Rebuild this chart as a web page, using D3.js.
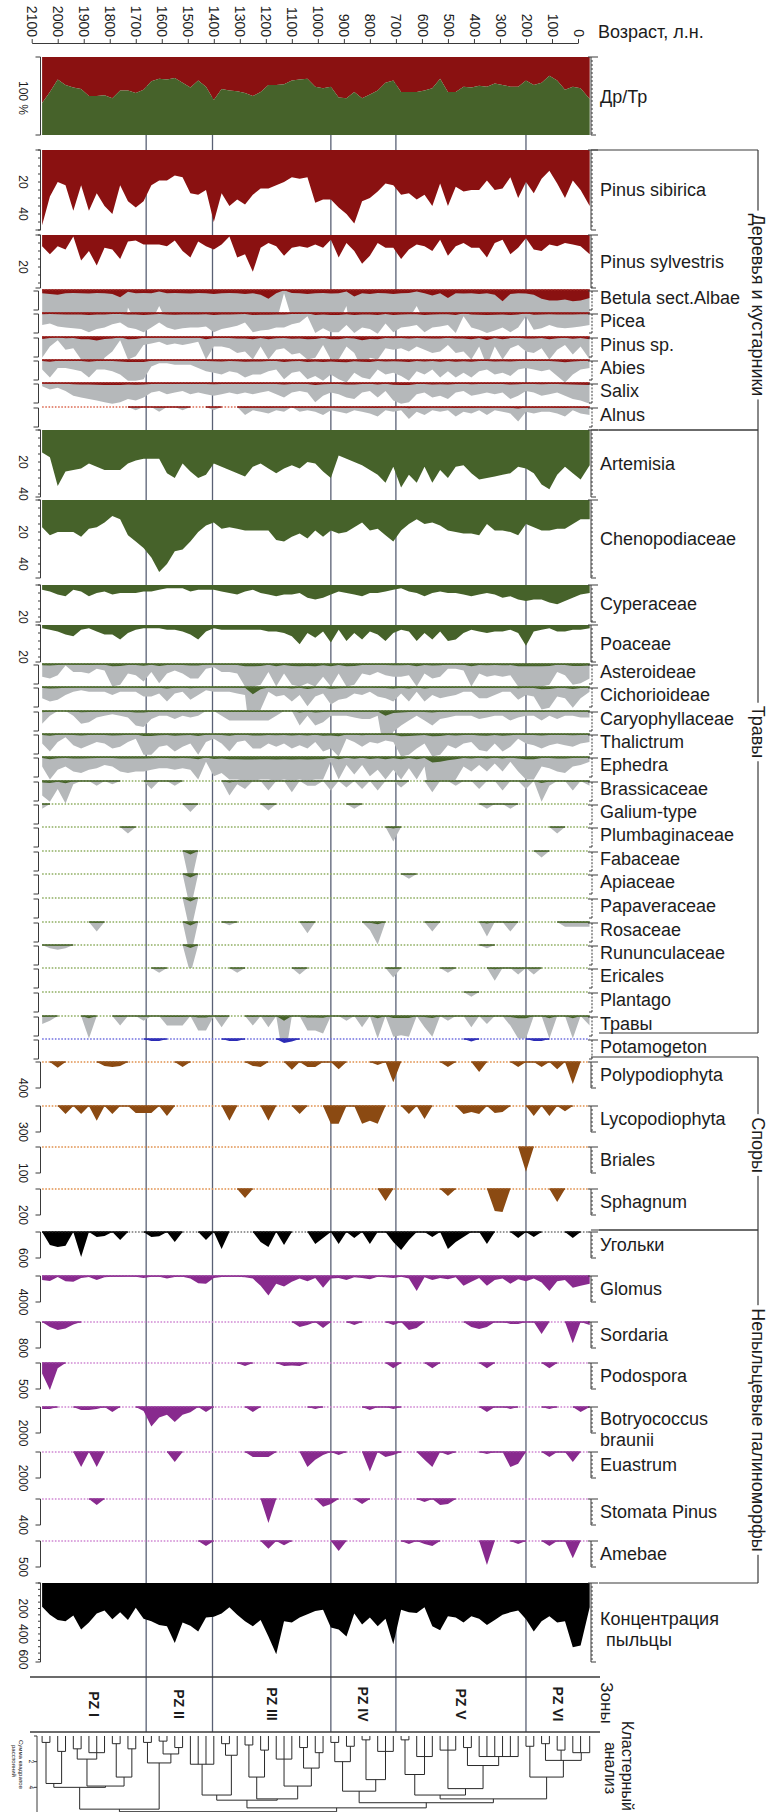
<!DOCTYPE html>
<html>
<head>
<meta charset="utf-8">
<script src="https://cdn.jsdelivr.net/npm/d3@7"></script>
<style>
  body { margin: 0; background: #fff; }
  svg { display: block; }
  text { font-family: "Liberation Sans", Arial, sans-serif; fill: #1c1c1c; }
</style>
</head>
<body>
<svg id="chart" width="775" height="1812"></svg>
<script>
// sample ages (years BP), shared by every curve
const ages = [2060,2030,2000,1970,1940,1910,1880,1850,1820,1790,
  1760,1730,1700,1670,1640,1610,1580,1550,1520,1490,
  1460,1430,1400,1370,1340,1310,1280,1250,1220,1190,
  1160,1130,1100,1070,1040,1010,980,950,920,890,
  860,830,800,770,740,710,680,650,620,590,
  560,530,500,470,440,410,380,350,320,290,
  260,230,200,170,140,110,80,50,20,-10,
  -45];

const ageTicks = [2100,2000,1900,1800,1700,1600,1500,1400,1300,1200,1100,1000,900,800,700,600,500,400,300,200,100,0];
const zoneBounds = [1660, 1405, 950, 700, 200];
const zoneNames = ["PZ I", "PZ II", "PZ III", "PZ IV", "PZ V", "PZ VI"];

// trees share (%) - the rest of the bar is herbs
const drTr = [59,45,29,36,39,41,50,50,49,53,
  43,43,46,42,31,28,29,27,33,39,
  30,38,55,41,43,44,46,50,45,36,
  36,35,30,29,28,38,40,38,52,53,
  45,53,48,43,33,30,45,45,45,43,
  40,28,45,45,38,39,37,38,34,36,
  38,38,30,36,33,24,30,42,38,40,
  54];

const pinusSibirica = [47,29,20,22,38,22,38,27,35,40,
  22,32,36,32,22,19,19,16,17,27,
  28,25,45,27,35,31,34,28,24,24,
  22,20,17,18,17,33,31,31,36,40,
  46,32,30,26,21,22,28,27,31,28,
  35,21,35,23,26,25,25,19,25,24,
  17,30,20,27,18,13,21,30,19,25,
  35];

const pinusSylvestris = [7,12,7,9,1,16,10,19,8,9,
  15,4,3.5,6,6,6,7,3.5,10,14,
  4,7,9,6,1,14,12,23,8,5,
  7,13,8,7,8,6,8,3,14,5,
  10,18,13,5,8,8,15,9,6,7,
  10,3,13,7,5,8,8,14,5,3,
  12,8,2,9,10,6,7,5,6,7,
  12];

const betula = [2.0,2.5,3.0,2.0,1.8,2.0,2.2,1.8,2.0,2.5,
  4.5,1.1,2.0,1.8,2.0,1.0,2.0,1.8,2.0,2.2,
  1.8,2.0,2.5,2.0,1.8,2.0,2.5,2.0,3.0,5.5,
  2.0,0.2,1.8,2.0,2.5,2.0,1.8,2.2,2.0,1.0,
  4.0,2.0,2.5,1.8,2.0,2.5,2.0,1.8,1.0,2.0,
  3.5,2.0,5.0,2.0,2.2,2.0,2.5,2.0,3.0,7.0,
  2.5,2.0,2.2,3.0,5.5,6.5,6.5,6.0,7.0,6.5,
  5.0];

const picea = [0.75,0.65,0.85,0.9,0.95,1.0,1.2,1.0,0.9,0.7,
  0.6,0.9,1.0,1.2,0.9,0.6,0.9,1.05,0.95,0.9,
  0.9,0.85,1.2,1.0,0.9,0.8,0.6,1.2,1.1,1.05,
  0.9,0.9,0.7,0.6,0.2,1.25,0.95,1.2,1.2,0.75,
  1.25,0.9,1.0,1.3,0.65,1.2,0.9,0.85,0.75,1.2,
  0.9,0.85,0.75,1.25,0.2,0.9,1.05,1.25,1.1,0.9,
  1.2,0.9,0.2,1.05,0.95,0.75,0.9,0.95,0.9,0.85,
  0.75];

const pinusSp = [1.3,0.6,0.2,0.8,0.7,1.4,1.4,2.2,1.3,0.9,
  0.2,1.4,1.2,0.5,0.4,0.3,0.5,0.4,0.5,0.4,
  0.3,1.4,0.6,0.6,0.7,1.0,0.9,1.4,0.6,1.4,
  0.8,0.7,1.1,1.0,1.4,1.3,0.5,1.4,1.4,0.6,
  1.0,2.0,1.3,1.4,0.7,0.8,0.7,0.9,0.6,0.8,
  1.0,0.9,0.5,1.0,0.9,1.4,0.6,1.8,0.6,1.4,
  0.7,0.5,0.9,1.0,0.7,1.4,0.8,0.5,1.1,0.6,
  1.4];

const abies = [0.6,1.1,0.5,0.5,0.6,0.7,1.1,0.6,0.6,0.7,
  0.9,1.3,1.3,1.2,0.4,0.2,0.2,0.3,0.3,0.3,
  0.5,0.7,0.8,0.9,0.7,0.8,1.1,0.9,0.9,0.7,
  0.6,1.2,0.8,0.7,1.2,1.0,1.3,0.9,1.2,1.4,
  0.8,1.1,1.2,0.6,0.9,0.8,1.0,1.3,0.7,0.9,
  0.6,1.1,0.7,1.1,0.8,1.1,0.7,0.6,0.9,0.8,
  1.0,0.6,0.5,0.6,0.7,0.6,1.0,1.4,0.9,0.6,
  0.5];

const salix = [0.2,0.4,0.3,0.5,0.8,0.9,1.0,1.1,1.2,1.3,
  1.2,1.0,1.1,0.9,0.6,0.5,0.7,0.6,0.5,0.7,
  0.6,0.7,0.8,0.7,0.6,0.7,0.6,0.7,0.6,0.5,
  0.7,0.9,0.6,0.5,0.6,1.2,0.8,0.6,0.7,0.9,
  1.0,0.6,0.5,0.9,0.5,1.1,1.3,1.2,0.7,0.6,
  0.9,0.8,1.0,0.6,0.5,0.8,0.7,0.6,0.7,0.6,
  1.0,0.8,0.5,0.6,0.8,0.7,0.6,0.8,1.0,1.1,
  1.3];

const alnus = [0,0,0,0,0,0,0,0,0,0,
  0,0,0.2,0,0,0.3,0,0,0.2,0,
  0,0,0.2,0,0,0,0.5,0.2,0.3,0.4,
  0.2,0.3,0,0.3,0.2,0.3,0.5,0.2,0.3,0.4,
  0.2,0.3,0.4,0.6,0.2,0.3,0.2,0.75,0.3,0.5,
  0.2,0.3,0.2,0.6,0.3,0.4,0.2,0.5,0.2,0.3,
  0.4,0.9,0.3,0.4,0.3,0.3,0.4,0.6,0.2,0.4,
  0.5];

const artemisia = [14,17,35,26,25,24,21,23,25,25,
  25,21,19,18,18,18,27,30,21,26,
  30,28,21,23,25,27,29,23,21,24,
  27,24,22,24,20,21,26,30,16,18,
  20,22,25,28,33,23,36,28,33,23,
  33,25,30,23,22,27,31,30,29,28,
  27,23,24,27,34,37,28,23,27,31,
  22];

const chenopodiaceae = [17,22,20,20,20,23,18,17,14,10,
  12,22,26,30,36,45,40,32,31,26,
  20,16,14,18,17,18,19,19,19,19,
  25,26,23,21,24,19,23,19,21,20,
  17,14,19,18,22,26,19,15,12,15,
  14,16,19,20,21,21,22,15,19,19,
  20,22,15,17,19,19,18,18,15,12,
  12];

const cyperaceae = [3,4,6,7,3,4,7,5,4,6,
  5,5,5,4,4,3,2,2,2,4,
  3,3,3,4,5,6,4,3,5,6,
  7,6,6,5,8,9,8,6,4,5,
  6,7,5,5,4,3,2,4,5,7,
  5,4,5,5,6,7,6,5,6,8,
  7,9,10,9,9,11,12,10,8,6,
  5];

const poaceae = [2,3,4,6,7,3,2,4,6,6,
  9,5,3,2,2,2,3,3,4,6,
  9,4,2,3,3,3,3,3,3,4,
  4,5,7,12,5,8,4,11,3,10,
  5,9,4,6,10,5,3,4,10,5,
  9,4,10,9,5,3,4,5,4,4,
  3,5,13,4,3,2,4,4,3,3,
  2];

const asteroideae = [0.8,0.9,0.7,0.1,0.5,0.5,0.6,0.3,0.4,1.4,
  1.3,0.6,0.7,1.1,0.5,1.2,0.6,0.4,0.6,0.9,
  0.9,0.3,0.2,0.5,0.5,0.6,1.4,1.4,1.3,0.5,
  1.4,0.6,1.3,1.4,1.2,1.4,0.8,1.4,0.6,1.4,
  1.3,0.6,0.7,0.5,0.7,0.8,0.8,0.7,1.4,0.6,
  0.9,0.8,0.3,0.3,0.4,1.4,0.6,0.8,0.7,0.8,
  0.7,1.4,1.4,1.4,1.4,1.3,0.5,0.7,1.3,1.2,
  0.9];

const cichorioideae = [0.7,0.9,0.8,0.5,0.3,0.2,0.3,0.3,0.3,0.5,
  0.3,0.3,0.3,0.6,0.6,0.4,0.9,0.4,0.3,0.8,
  0.5,0.2,0.3,0.3,0.3,0.4,0.5,4.5,1.4,0.3,
  0.6,0.5,0.9,0.5,1.2,0.6,0.4,1.1,0.8,0.7,
  0.4,0.5,0.3,0.6,0.7,0.9,0.4,0.9,0.3,0.9,
  0.5,0.7,0.6,0.5,0.3,0.3,0.7,0.7,0.5,0.3,
  0.3,0.8,0.5,0.6,1.4,1.3,0.6,0.7,1.3,0.7,
  0.3];

const caryophyllaceae = [0.8,0.3,0,0,0.3,0.8,0.7,0.4,0.3,0.2,
  0.3,0.4,0.9,1.0,0.5,0.3,0.3,0.5,0.3,0.4,
  0.3,0,0,0.3,0.6,0.6,0.6,0.6,0.6,0.6,
  0.3,0,0,0.9,0.3,0.9,0.7,0.3,0.3,0.3,
  0.4,0.5,0.5,0.3,3.0,1.3,0.9,0.6,0.3,0.6,
  0.9,0.5,0.4,0.3,0.3,0.3,0.5,0.4,0.3,0.3,
  0.6,0.4,0.3,0.3,0.6,0.3,0.5,0.3,0.3,0.4,
  0.4];

const thalictrum = [0.6,1.1,0.5,0.2,0.7,0.9,0.7,0.5,0.6,0.9,
  0.8,0.5,0.3,1.3,1.3,0.8,0.7,1.1,0.8,0.6,
  1.3,0.5,0.3,0.6,1.1,0.5,0.4,0.9,0.9,0.6,
  0.8,0.6,0.9,0.7,0.9,0.5,1.1,0.9,1.4,0.3,
  0.5,0.8,0.5,0.6,0.4,0.5,1.4,1.3,0.9,0.6,
  1.4,1.3,0.7,0.9,0.6,0.5,1.0,1.1,0.6,1.1,
  0.8,0.3,0.6,0.7,0.9,0.7,0.6,0.7,0.8,0.6,
  0.5];

const ephedra = [0.6,1.4,0.8,0.6,0.9,1.0,0.8,0.7,0.5,0.6,
  0.9,1.0,0.9,0.9,0.8,0.7,0.7,0.8,0.7,0.8,
  1.4,0.3,1.2,1.0,1.4,1.4,1.5,1.5,1.4,1.4,
  1.5,1.4,1.5,1.4,1.5,1.4,1.4,0.3,1.4,0.5,
  1.1,0.5,1.2,0.8,1.4,0.8,1.4,0.7,1.4,0.6,
  3.5,3.0,2.0,1.4,0.6,0.9,0.5,0.9,0.4,0.9,
  0.3,0.9,1.4,1.4,0.6,0.7,0.9,1.0,0.6,0.5,
  0.3];

const brassicaceae = [0.9,1.3,0.5,1.4,0.2,0,0,0.3,0,0.2,
  0,0,0,0,0.5,0,0,0.3,0,0,
  0,0,0,0,0.9,0.2,0.5,0,0,0.6,
  0,0,0.7,0,0.3,0.3,0,0.6,0,0.4,
  0,0.5,0,0.6,0,0,0.4,0,0,0,
  0.7,0,0,0.3,0,0,0.5,0,0,0.6,
  0,0,0.5,0,1.3,0.3,0,0,0.6,0,
  0.3];

// rare taxa: [age, %]
const galium = [[2060,0.3],[1490,0.5],[1190,0.4],[860,0.3],[350,0.3],[260,0.3]];
const plumbaginaceae = [[1730,0.4],[710,0.9],[80,0.4]];
const fabaceae = [[1490,2.2],[140,0.4]];
const apiaceae = [[1490,2.2],[650,0.3]];
const papaveraceae = [[1490,2.2]];
const rosaceae = [[1850,0.6],[1490,2.2],[1340,0.2],[1040,0.7],[800,0.5],[770,1.4],[560,0.6],[350,0.9],[260,0.6],[50,0.3],[20,0.3],[-10,0.3],[-45,0.3]];
const rununculaceae = [[2030,0.2],[2000,0.3],[1970,0.2],[1490,1.8],[350,0.2]];
const ericales = [[1610,0.3],[1310,0.3],[1070,0.4],[710,0.6],[500,0.3],[320,0.8],[230,0.4],[170,0.4]];
const plantago = [[410,0.3]];
const travy = [[2060,0.5],[2030,0.3],[1880,1.4],[1760,0.6],[1670,0.3],[1580,0.6],[1550,0.6],[1520,0.6],[1460,0.9],[1430,0.9],[1370,0.7],[1250,0.6],[1190,0.7],[1130,3.0],[1040,0.9],[1010,0.9],[980,1.1],[890,0.3],[830,0.7],[770,1.4],[710,1.3],[680,1.2],[650,1.3],[590,0.7],[560,1.3],[500,0.3],[410,0.7],[350,0.5],[260,0.6],[230,1.4],[200,1.4],[110,1.4],[20,1.4],[-45,0.6]];
const potamogeton = [[1640,1.2],[1610,1.2],[1340,1.2],[1310,1.2],[1130,2.5],[1100,1.5],[410,1.5],[170,1.2],[140,1.2]];

// spores and non-pollen palynomorphs: [age, count]
const polypodiophyta = [[2000,90],[1820,60],[1790,75],[1760,60],[1520,75],[1250,60],[1220,75],[1100,120],[1040,75],[1010,75],[920,110],[770,45],[710,310],[500,75],[380,155],[230,75],[140,75],[80,110],[20,340]];
const lycopodiophyta = [[1970,92],[1910,92],[1850,170],[1790,92],[1700,80],[1670,80],[1640,80],[1580,115],[1340,170],[1190,170],[1070,92],[950,205],[920,205],[830,205],[800,170],[770,205],[650,92],[590,150],[440,92],[410,70],[380,92],[320,80],[290,70],[170,115],[110,115],[50,60]];
const briales = [[200,95]];
const sphagnum = [[1280,70],[740,92],[500,54],[320,170],[290,177],[80,100]];
const ugolki = [[2030,300],[2000,345],[1970,320],[1910,575],[1850,115],[1820,90],[1760,185],[1640,115],[1610,100],[1550,230],[1430,185],[1370,390],[1220,230],[1190,345],[1130,300],[1010,275],[980,140],[920,275],[860,140],[800,275],[710,230],[680,415],[650,185],[560,115],[500,390],[470,230],[440,115],[350,275],[230,140],[170,115],[20,140]];
const glomus = [600,750,150,800,900,300,150,600,200,100,
  100,80,100,300,100,100,400,150,100,400,
  1100,1200,300,150,100,100,200,400,1500,3000,
  1200,1600,900,400,800,300,1800,400,300,600,
  200,300,500,100,200,300,100,400,2300,200,
  600,300,500,200,1500,900,300,1500,600,400,
  1200,500,800,400,1000,2300,800,600,1800,1500,
  1200];
const sordaria = [[2030,150],[2000,245],[1970,200],[1940,80],[1070,150],[1040,90],[980,185],[860,90],[710,90],[650,245],[620,185],[410,150],[380,215],[350,150],[260,60],[230,60],[140,370],[20,650],[-45,90]];
const podospora = [[2060,200],[2030,520],[2000,100],[1280,60],[1130,60],[1100,50],[1070,60],[710,100],[560,100],[350,100],[110,100]];
const botryococcus = [[2060,150],[2030,150],[1910,230],[1880,230],[1850,150],[1790,385],[1670,300],[1640,1500],[1610,800],[1580,600],[1550,1150],[1520,600],[1490,400],[1430,385],[1250,385],[1010,150],[800,230],[710,150],[350,385],[260,150],[110,150],[-10,385]];
const euastrum = [[1910,1150],[1850,1150],[1550,770],[1250,385],[1220,385],[1190,385],[1040,1150],[1010,600],[980,230],[920,230],[800,1500],[740,385],[710,230],[590,600],[560,1150],[500,230],[350,150],[260,1150],[230,900],[110,385],[20,770]];
const stomataPinus = [[1850,92],[1190,370],[980,120],[950,77],[830,77],[590,45],[530,92],[500,77]];
const amebae = [[1430,96],[1190,150],[1130,80],[920,190],[650,60],[590,60],[560,96],[350,460],[230,60],[110,96],[20,330]];

const concentration = [186,250,290,300,255,365,310,240,215,285,
  230,290,195,280,300,330,340,470,310,335,
  380,270,265,240,190,250,300,340,290,420,
  560,300,310,270,245,220,210,350,365,420,
  240,325,270,340,280,480,210,230,235,190,
  340,370,260,270,310,260,280,330,290,250,
  230,215,285,380,300,260,310,300,505,490,
  190];

// cluster analysis: leaves are sample ages, h = sum of squares
const clusterTree = {h: 5.9, c: [
  {h: 5.7, c: [
    {h: 4.0, c: [
      {h: 3.7, c: [{h: 0.5, c: [2060, 2030]}, {h: 1.2, c: [2000, 1970]}]},
      {h: 3.9, c: [
        {h: 1.8, c: [{h: 1.0, c: [1940, 1910]}, {h: 1.3, c: [1880, 1850, 1820]}]},
        {h: 3.2, c: [{h: 0.6, c: [1790, 1760]}, {h: 1.0, c: [1730, 1700]}]}]}]},
    {h: 2.1, c: [{h: 0.5, c: [1670, 1640]}, {h: 1.4, c: [{h: 0.4, c: [1610, 1580]}, {h: 0.9, c: [1550, 1520]}]}]}]},
  {h: 5.6, c: [
    {h: 5.0, c: [
      {h: 4.6, c: [{h: 2.2, c: [1490, 1460, 1430, 1400]}, {h: 1.5, c: [{h: 0.6, c: [1370, 1340]}, 1310]}]},
      {h: 4.9, c: [
        {h: 3.2, c: [{h: 0.7, c: [1280, 1250]}, {h: 1.1, c: [1220, 1190]}]},
        {h: 3.9, c: [{h: 1.8, c: [1160, 1130, 1100]}, {h: 2.5, c: [{h: 0.9, c: [1070, 1040]}, {h: 1.3, c: [1010, 980]}]}]}]}]},
    {h: 5.2, c: [
      {h: 4.3, c: [
        {h: 2.0, c: [{h: 0.5, c: [950, 920]}, {h: 0.8, c: [890, 860]}]},
        {h: 3.4, c: [{h: 0.3, c: [830, 800]}, {h: 1.2, c: [770, 740, 710]}]}]},
      {h: 4.9, c: [
        {h: 4.6, c: [
          {h: 3.0, c: [{h: 0.3, c: [680, 650]}, {h: 1.6, c: [620, 590, 560]}]},
          {h: 4.1, c: [{h: 1.1, c: [530, 500, 470]}, {h: 2.3, c: [{h: 0.9, c: [440, 410]}, {h: 1.6, c: [380, 350, 320, 290, 260, 230]}]}]}]},
        {h: 3.2, c: [{h: 0.8, c: [200, 170]}, {h: 1.9, c: [{h: 0.6, c: [140, 110]}, {h: 1.1, c: [80, 50]}, {h: 1.3, c: [20, -10, -45]}]}]}]}]}]}]};

// ---- drawing ----
const RED = "#8a1111", RED_DOT = "#dc6a52", GREEN = "#46622a", GREEN_DOT = "#8fae62", GRAY = "#b5b8ba",
      BROWN = "#8b4a12", BROWN_DOT = "#e0904c", PURPLE = "#882a8e", PURPLE_DOT = "#cf86d2",
      BLACK = "#000000", BLACK_DOT = "#777777", BLUE = "#2b2bb5", BLUE_DOT = "#7070e0",
      AXIS = "#3a3a3a", ZONE = "#596074";
const PX = 1.6;        // px per percent
const EXAG = 10;       // grey exaggeration
const AXL = 40.5, AXR = 591, LBLX = 23, NAMEX = 600;

const svg = d3.select("#chart");
const defs = svg.append("defs");
const x = d3.scaleLinear().domain([2100, 0]).range([31.7, 578]);
const xL = x(ages[0]), xR = x(ages[ages.length - 1]);

const gZones = svg.append("g");
const gPanels = svg.append("g");
const gAxes = svg.append("g").attr("stroke", AXIS).attr("stroke-width", 1);
const gText = svg.append("g");

function expand(pairs) {
  const m = new Map(pairs);
  return ages.map(a => m.has(a) ? m.get(a) : 0);
}

// zone boundaries
gZones.selectAll("line").data(zoneBounds).join("line")
  .attr("x1", d => x(d)).attr("x2", d => x(d))
  .attr("y1", 57).attr("y2", 1732)
  .attr("stroke", ZONE).attr("stroke-width", 1.3);

// age axis on top
const axT = svg.append("g").attr("transform", "translate(0,43)")
  .call(d3.axisTop(x).tickValues(ageTicks).tickSize(4).tickSizeOuter(0).tickFormat(d3.format("d")));
axT.select(".domain").attr("stroke", AXIS);
axT.selectAll(".tick line").attr("stroke", AXIS);
axT.selectAll(".tick text")
  .attr("transform", "rotate(90)").attr("x", -6).attr("y", 0).attr("dy", "0.35em")
  .attr("text-anchor", "end").attr("font-size", 14).attr("fill", "#1c1c1c")
  .attr("font-family", "Liberation Sans, Arial, sans-serif");
gText.append("text").attr("x", 598).attr("y", 32).attr("dy", "0.35em")
  .attr("font-size", 18).text("Возраст, л.н.");

function name(lines, yc, indent) {
  const t = gText.append("text").attr("font-size", 18);
  lines.forEach((s, k) => {
    t.append("tspan").attr("x", NAMEX + (k ? (indent || 0) : 0))
      .attr("y", yc + (lines.length > 1 ? (k ? 11 : -10) : 0))
      .attr("dy", "0.35em").text(s);
  });
}

function leftLabel(txt, yc) {
  gText.append("text").attr("transform", `translate(${LBLX},${yc}) rotate(90)`)
    .attr("text-anchor", "middle").attr("dy", "0.35em").attr("font-size", 12).text(txt);
}

function leftAxis(y, top, bottom, minor) {
  gAxes.append("line").attr("x1", AXL).attr("x2", AXL).attr("y1", top).attr("y2", bottom);
  if (minor) {
    gAxes.selectAll(null).data(d3.range(0, y.invert(bottom) + 1e-6, minor)).join("line")
      .attr("x1", AXL - 2.5).attr("x2", AXL).attr("y1", d => y(d)).attr("y2", d => y(d));
  }
  gAxes.selectAll(null).data([top, bottom]).join("line")
    .attr("x1", AXL - 5).attr("x2", AXL).attr("y1", d => d).attr("y2", d => d);
}

function rightAxis(top, bottom) {
  gAxes.append("line").attr("x1", AXR).attr("x2", AXR).attr("y1", top).attr("y2", bottom);
  gAxes.selectAll(null).data(d3.range(top + 4, bottom, 4)).join("line")
    .attr("x1", AXR).attr("x2", AXR + 2).attr("y1", d => d).attr("y2", d => d);
  gAxes.append("line").attr("x1", AXR - 3).attr("x2", AXR + 7).attr("y1", top).attr("y2", top);
  gAxes.append("line").attr("x1", AXR).attr("x2", AXR + 5).attr("y1", bottom).attr("y2", bottom);
}

function bracketAxis(top, bottom) {
  gAxes.append("line").attr("x1", AXL - 2).attr("x2", AXL - 2).attr("y1", top).attr("y2", bottom);
  gAxes.selectAll(null).data([top, bottom]).join("line")
    .attr("x1", AXL - 7).attr("x2", AXL - 2).attr("y1", d => d).attr("y2", d => d);
  gAxes.append("line").attr("x1", AXR + 1).attr("x2", AXR + 1).attr("y1", top).attr("y2", bottom)
    .attr("stroke-dasharray", "2,1.4");
  gAxes.append("line").attr("x1", AXR - 3).attr("x2", AXR + 7).attr("y1", top).attr("y2", top);
  gAxes.append("line").attr("x1", AXR - 2).attr("x2", AXR + 1).attr("y1", bottom).attr("y2", bottom);
}

function areaFor(y, k) {
  return d3.area().x((d, i) => x(ages[i])).y0(y(0)).y1(d => y(d * (k || 1)));
}

function baseline(v, top, color, dot) {
  gPanels.append("line").attr("x1", xL).attr("x2", xR).attr("y1", top).attr("y2", top)
    .attr("stroke", dot).attr("stroke-width", 1.3).attr("stroke-dasharray", "1.6,1.6");
  const line = d3.line()
    .defined((d, i) => d > 0 || v[i - 1] > 0 || v[i + 1] > 0)
    .x((d, i) => x(ages[i])).y(top);
  gPanels.append("path").datum(v).attr("fill", "none")
    .attr("stroke", color).attr("stroke-width", 1.3).attr("d", line);
}

// Др/Тр ratio
{
  const top = 57, bottom = 135;
  const y = d3.scaleLinear().domain([0, 100]).range([top, bottom]);
  gPanels.append("path").datum(drTr).attr("fill", RED)
    .attr("d", d3.area().x((d, i) => x(ages[i])).y0(y(0)).y1(d => y(d)));
  gPanels.append("path").datum(drTr).attr("fill", GREEN)
    .attr("d", d3.area().x((d, i) => x(ages[i])).y0(d => y(d)).y1(y(100)));
  leftAxis(y, top, bottom, 0);
  rightAxis(top, bottom);
  leftLabel("100 %", 98);
  name(["Др/Тр"], 97);
}

const bigPanels = [
  {name: ["Pinus sibirica"], values: pinusSibirica, top: 150, h: 80, color: RED, ticks: [20, 40]},
  {name: ["Pinus sylvestris"], values: pinusSylvestris, top: 235, h: 53, color: RED, ticks: [20]},
  {name: ["Artemisia"], values: artemisia, top: 430, h: 67, color: GREEN, ticks: [20, 40]},
  {name: ["Chenopodiaceae"], values: chenopodiaceae, top: 500, h: 78, color: GREEN, ticks: [20, 40]},
  {name: ["Cyperaceae"], values: cyperaceae, top: 585, h: 37, color: GREEN, ticks: [20]},
  {name: ["Poaceae"], values: poaceae, top: 625, h: 37, color: GREEN, ticks: [20]},
  {name: ["Концентрация", "пыльцы"], indent: 6, values: concentration, top: 1583, h: 79, max: 620,
   minor: 50, color: BLACK, ticks: [200, 400, 600], labelY: 1629}
];

bigPanels.forEach(p => {
  const y = d3.scaleLinear().domain([0, p.max || p.h / PX]).range([p.top, p.top + p.h]);
  gPanels.append("path").datum(p.values).attr("fill", p.color).attr("d", areaFor(y));
  leftAxis(y, p.top, p.top + p.h, p.minor || 5);
  rightAxis(p.top, p.top + p.h);
  p.ticks.forEach(t => leftLabel(t, y(t)));
  name(p.name, p.labelY || p.top + p.h / 2, p.indent);
});

const smallPanels = [
  {name: "Betula sect.Albae", values: betula, top: 290, color: RED, dot: RED_DOT},
  {name: "Picea", values: picea, top: 313, color: RED, dot: RED_DOT},
  {name: "Pinus sp.", values: pinusSp, top: 337, color: RED, dot: RED_DOT},
  {name: "Abies", values: abies, top: 360, color: RED, dot: RED_DOT},
  {name: "Salix", values: salix, top: 383, color: RED, dot: RED_DOT},
  {name: "Alnus", values: alnus, top: 407, color: RED, dot: RED_DOT},
  {name: "Asteroideae", values: asteroideae, top: 664, color: GREEN, dot: GREEN_DOT},
  {name: "Cichorioideae", values: cichorioideae, top: 687, color: GREEN, dot: GREEN_DOT},
  {name: "Caryophyllaceae", values: caryophyllaceae, top: 711, color: GREEN, dot: GREEN_DOT},
  {name: "Thalictrum", values: thalictrum, top: 734, color: GREEN, dot: GREEN_DOT},
  {name: "Ephedra", values: ephedra, top: 757, color: GREEN, dot: GREEN_DOT},
  {name: "Brassicaceae", values: brassicaceae, top: 781, color: GREEN, dot: GREEN_DOT},
  {name: "Galium-type", values: expand(galium), top: 804, color: GREEN, dot: GREEN_DOT},
  {name: "Plumbaginaceae", values: expand(plumbaginaceae), top: 827, color: GREEN, dot: GREEN_DOT},
  {name: "Fabaceae", values: expand(fabaceae), top: 851, color: GREEN, dot: GREEN_DOT},
  {name: "Apiaceae", values: expand(apiaceae), top: 874, color: GREEN, dot: GREEN_DOT},
  {name: "Papaveraceae", values: expand(papaveraceae), top: 898, color: GREEN, dot: GREEN_DOT},
  {name: "Rosaceae", values: expand(rosaceae), top: 922, color: GREEN, dot: GREEN_DOT},
  {name: "Rununculaceae", values: expand(rununculaceae), top: 945, color: GREEN, dot: GREEN_DOT},
  {name: "Ericales", values: expand(ericales), top: 968, color: GREEN, dot: GREEN_DOT},
  {name: "Plantago", values: expand(plantago), top: 992, color: GREEN, dot: GREEN_DOT},
  {name: "Травы", values: expand(travy), top: 1016, color: GREEN, dot: GREEN_DOT},
  {name: "Potamogeton", values: expand(potamogeton), top: 1039, color: BLUE, dot: BLUE_DOT, noGray: true}
];

smallPanels.forEach((p, k) => {
  const h = 23;
  const y = d3.scaleLinear().domain([0, h / PX]).range([p.top, p.top + h]);
  defs.append("clipPath").attr("id", "cs" + k).append("rect")
    .attr("x", xL).attr("y", p.top).attr("width", xR - xL).attr("height", h);
  const g = gPanels.append("g").attr("clip-path", `url(#cs${k})`);
  if (!p.noGray) g.append("path").datum(p.values).attr("fill", GRAY).attr("d", areaFor(y, EXAG));
  g.append("path").datum(p.values).attr("fill", p.color).attr("d", areaFor(y));
  baseline(p.values, p.top, p.color, p.dot);
  bracketAxis(p.top + 1, p.top + 20);
  name([p.name], p.top + 8);
});

const sparsePanels = [
  {name: ["Polypodiophyta"], values: expand(polypodiophyta), top: 1062, max: 400, color: BROWN, dot: BROWN_DOT},
  {name: ["Lycopodiophyta"], values: expand(lycopodiophyta), top: 1106, max: 300, color: BROWN, dot: BROWN_DOT},
  {name: ["Briales"], values: expand(briales), top: 1147, max: 100, color: BROWN, dot: BROWN_DOT},
  {name: ["Sphagnum"], values: expand(sphagnum), top: 1189, max: 200, color: BROWN, dot: BROWN_DOT},
  {name: ["Угольки"], values: expand(ugolki), top: 1232, max: 600, color: BLACK, dot: BLACK_DOT},
  {name: ["Glomus"], values: glomus, top: 1276, max: 4000, color: PURPLE, dot: PURPLE_DOT},
  {name: ["Sordaria"], values: expand(sordaria), top: 1322, max: 800, color: PURPLE, dot: PURPLE_DOT},
  {name: ["Podospora"], values: expand(podospora), top: 1363, max: 500, color: PURPLE, dot: PURPLE_DOT},
  {name: ["Botryococcus", "braunii"], values: expand(botryococcus), top: 1407, max: 2000, color: PURPLE, dot: PURPLE_DOT, labelY: 1429},
  {name: ["Euastrum"], values: expand(euastrum), top: 1452, max: 2000, color: PURPLE, dot: PURPLE_DOT},
  {name: ["Stomata Pinus"], values: expand(stomataPinus), top: 1499, max: 400, color: PURPLE, dot: PURPLE_DOT},
  {name: ["Amebae"], values: expand(amebae), top: 1541, max: 500, color: PURPLE, dot: PURPLE_DOT}
];

sparsePanels.forEach(p => {
  const h = 26;
  const y = d3.scaleLinear().domain([0, p.max]).range([p.top, p.top + h]);
  gPanels.append("path").datum(p.values).attr("fill", p.color).attr("d", areaFor(y));
  baseline(p.values, p.top, p.color, p.dot);
  leftAxis(y, p.top, p.top + h, 0);
  rightAxis(p.top, p.top + h);
  leftLabel(p.max, p.top + h);
  name(p.name, p.labelY || p.top + 13);
});

// group brackets on the right
const groups = [
  {name: "Деревья и кустарники", y0: 150, y1: 430, yc: 305},
  {name: "Травы", y0: 430, y1: 1033, yc: 732},
  {name: "Споры", y0: 1057, y1: 1230, yc: 1145},
  {name: "Непыльцевые палиноморфы", y0: 1230, y1: 1583, yc: 1430}
];
const BX = 758;
groups.forEach(gr => {
  const g = svg.append("g").attr("stroke", AXIS).attr("stroke-width", 1.2);
  g.append("line").attr("x1", AXR).attr("x2", BX).attr("y1", gr.y0).attr("y2", gr.y0);
  g.append("line").attr("x1", AXR + 8).attr("x2", BX).attr("y1", gr.y1).attr("y2", gr.y1);
  g.append("line").attr("x1", BX).attr("x2", BX).attr("y1", gr.y0).attr("y2", gr.y1);
  const tg = svg.append("g").attr("transform", `translate(${BX},${gr.yc}) rotate(90)`);
  const bg = tg.append("rect").attr("fill", "#fff");
  const t = tg.append("text").attr("text-anchor", "middle").attr("dy", "0.35em")
    .attr("font-size", 18).text(gr.name);
  const bb = t.node().getBBox();
  bg.attr("x", bb.x - 3).attr("y", bb.y).attr("width", bb.width + 6).attr("height", bb.height);
});

// zones strip
svg.append("g").attr("stroke", AXIS).attr("stroke-width", 1.4)
  .selectAll("line").data([1677, 1732]).join("line")
  .attr("x1", 30).attr("x2", 600).attr("y1", d => d).attr("y2", d => d);
const zoneEdges = [ages[0], ...zoneBounds, ages[ages.length - 1]];
gText.selectAll(null).data(zoneNames).join("text")
  .attr("transform", (d, i) => `translate(${(x(zoneEdges[i]) + x(zoneEdges[i + 1])) / 2},1704) rotate(90)`)
  .attr("text-anchor", "middle").attr("dy", "0.35em")
  .attr("font-size", 14).attr("font-weight", "bold").text(d => d);
gText.append("text").attr("transform", "translate(607,1703) rotate(90)")
  .attr("text-anchor", "middle").attr("dy", "0.35em").attr("font-size", 17).text("Зоны");

// dendrogram
const yD = d3.scaleLinear().domain([0, 6]).range([1736, 1813]);
const root = d3.hierarchy(clusterTree, d => d.c);
root.eachAfter(n => {
  if (!n.children) { n.px = x(n.data); n.py = yD(0); }
  else {
    n.px = (n.children[0].px + n.children[n.children.length - 1].px) / 2;
    n.py = yD(n.data.h);
  }
});
const gD = svg.append("g").attr("stroke", "#2a2a2a").attr("stroke-width", 1);
root.each(n => {
  if (!n.children) return;
  const xs = n.children.map(c => c.px);
  gD.append("line").attr("x1", d3.min(xs)).attr("x2", d3.max(xs)).attr("y1", n.py).attr("y2", n.py);
  n.children.forEach(c => {
    gD.append("line").attr("x1", c.px).attr("x2", c.px).attr("y1", c.py).attr("y2", n.py);
  });
});
gAxes.append("line").attr("x1", 37).attr("x2", 37).attr("y1", yD(0)).attr("y2", 1812);
gAxes.selectAll(null).data([0, 2, 4, 6]).join("line")
  .attr("x1", 34).attr("x2", 37).attr("y1", d => yD(d)).attr("y2", d => yD(d));
gText.selectAll(null).data([2, 4]).join("text")
  .attr("transform", d => `translate(31,${yD(d)}) rotate(90)`)
  .attr("text-anchor", "middle").attr("dy", "0.35em").attr("font-size", 6.5).text(d => d);
gText.append("text").attr("transform", "translate(21,1740) rotate(90)")
  .attr("font-size", 6).attr("dy", "0.35em").text("Сумма квадратов");
gText.append("text").attr("transform", "translate(14,1745) rotate(90)")
  .attr("font-size", 6).attr("dy", "0.35em").text("расстояний");
gText.append("text").attr("transform", "translate(628,1766) rotate(90)")
  .attr("text-anchor", "middle").attr("dy", "0.35em").attr("font-size", 16).text("Кластерный");
gText.append("text").attr("transform", "translate(611,1768) rotate(90)")
  .attr("text-anchor", "middle").attr("dy", "0.35em").attr("font-size", 16).text("анализ");
</script>
</body>
</html>
